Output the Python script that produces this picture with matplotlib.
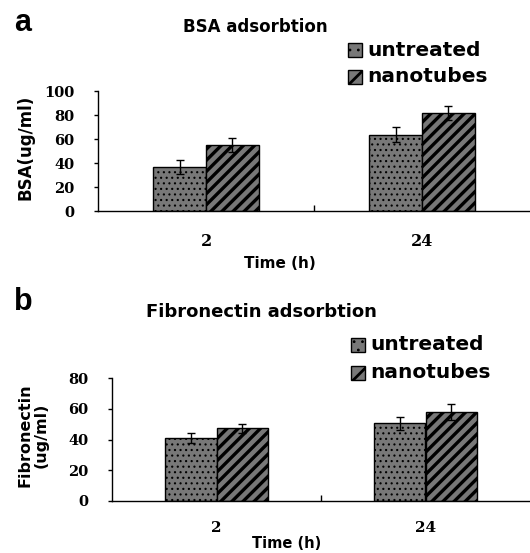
import matplotlib
matplotlib.use("Agg")
import matplotlib.pyplot as plt
from matplotlib.patches import Rectangle
import numpy as np

categories = ["2", "24"]
series = ["untreated", "nanotubes"]
bsa_untreated = [36.7, 63.6]
bsa_nanotubes = [55.0, 81.7]
bsa_untreated_err = [5.7, 6.5]
bsa_nanotubes_err = [5.5, 6.0]
fn_untreated = [40.9, 50.5]
fn_nanotubes = [47.4, 57.9]
fn_untreated_err = [3.5, 4.0]
fn_nanotubes_err = [3.0, 5.0]
bsa_yticks = [0, 20, 40, 60, 80, 100]
fn_yticks = [0, 20, 40, 60, 80]

plt.rcParams['hatch.color'] = 'black'

W, H = 530, 553
fig = plt.figure(figsize=(W / 100, H / 100), dpi=100)

sans = 'DejaVu Sans'
serif = 'DejaVu Serif'
fill = '#787878'
DOT = '...'
STRIPE = '///'


def set_hlw(artists, lw):
    for a in artists:
        if hasattr(a, 'set_hatch_linewidth'):
            a.set_hatch_linewidth(lw)


def make_panel(rect, unt, nano, unt_err, nano_err, yticks, ymax, title, ylabel,
               title_x, title_y, title_fs, leg_y1, leg_y2, leg_x, letter, letter_y,
               ylabel_x, ylabel_fs, ticklab_y, xlabel_y, xlabel_fs, ytick_fs,
               xtick_fs):
    l, b, w, h = rect
    ax = fig.add_axes([l / W, 1 - (b + h) / H, w / W, h / H])
    x = np.arange(len(categories))
    bw = 0.245
    with plt.rc_context({'hatch.linewidth': 0.8}):
        b1 = ax.bar(x - bw / 2, unt, bw, color=fill, edgecolor='black',
                    hatch=DOT, linewidth=1.0, zorder=2)
    set_hlw(b1, 0.8)
    with plt.rc_context({'hatch.linewidth': 2.4}):
        b2 = ax.bar(x + bw / 2, nano, bw, color=fill, edgecolor='black',
                    hatch=STRIPE, linewidth=1.0, zorder=2)
    set_hlw(b2, 2.4)
    ax.errorbar(x - bw / 2, unt, yerr=unt_err, fmt='none', ecolor='black',
                elinewidth=1.0, capsize=3, capthick=1.0, zorder=3)
    ax.errorbar(x + bw / 2, nano, yerr=nano_err, fmt='none', ecolor='black',
                elinewidth=1.0, capsize=3, capthick=1.0, zorder=3)
    ax.set_xlim(-0.5, 1.5)
    ax.set_ylim(0, ymax)
    ax.spines['top'].set_visible(False)
    ax.spines['right'].set_visible(False)
    ax.spines['left'].set_linewidth(1.0)
    ax.spines['bottom'].set_linewidth(1.0)
    ax.set_yticks(yticks)
    ax.set_yticklabels([str(t) for t in yticks], fontfamily=serif,
                       fontweight='bold', fontsize=ytick_fs)
    ax.tick_params(axis='y', length=3, width=1, pad=14, direction='out')
    ax.set_xticks(x)
    ax.set_xticklabels([])
    ax.tick_params(axis='x', length=0)
    ax.set_xticks([0.5], minor=True)
    ax.tick_params(axis='x', which='minor', length=4, width=1, direction='in')
    for xi, c in zip(x, categories):
        disp = ax.transData.transform((xi, 0))
        fx = fig.transFigure.inverted().transform(disp)[0]
        fig.text(fx, 1 - ticklab_y / H, c, ha='center', va='center',
                 fontfamily=serif, fontweight='bold', fontsize=xtick_fs)
    fig.text(280 / W if letter == 'a' else 287 / W, 1 - xlabel_y / H,
             'Time (h)', ha='center', va='center', fontfamily=sans,
             fontweight='bold', fontsize=xlabel_fs)
    fig.text(title_x / W, 1 - title_y / H, title, ha='center', va='center',
             fontfamily=sans, fontweight='bold', fontsize=title_fs)
    fig.text(ylabel_x / W, 1 - (b + h / 2 - 4) / H, ylabel, ha='center',
             va='center', rotation=90, fontfamily=sans, fontweight='bold',
             fontsize=ylabel_fs, linespacing=1.15)
    fig.text(14 / W, 1 - letter_y / H, letter, ha='left', va='center',
             fontfamily='Liberation Sans', fontweight='bold', fontsize=22)
    for yy, name, hatch, hl in [(leg_y1, series[0], '..', 0.8),
                                (leg_y2, series[1], '//', 2.0)]:
        with plt.rc_context({'hatch.linewidth': hl}):
            r = Rectangle(((leg_x) / W, 1 - (yy + 7) / H), 14 / W, 14 / H,
                          transform=fig.transFigure, facecolor=fill,
                          edgecolor='black', hatch=hatch, linewidth=1.0)
        set_hlw([r], hl)
        fig.add_artist(r)
        fig.text((leg_x + 19) / W, 1 - yy / H, name, ha='left', va='center',
                 fontfamily=sans, fontweight='bold', fontsize=14.5)
    return ax


make_panel((98, 91, 432, 120), bsa_untreated, bsa_nanotubes, bsa_untreated_err,
           bsa_nanotubes_err, bsa_yticks, 100, 'BSA adsorbtion', 'BSA(ug/ml)',
           title_x=255, title_y=27, title_fs=12, leg_y1=50, leg_y2=77, leg_x=348,
           letter='a', letter_y=23, ylabel_x=26, ylabel_fs=12, ticklab_y=242,
           xlabel_y=263, xlabel_fs=11, ytick_fs=10.5, xtick_fs=11.5)

make_panel((112, 378, 418, 123), fn_untreated, fn_nanotubes, fn_untreated_err,
           fn_nanotubes_err, fn_yticks, 80, 'Fibronectin adsorbtion',
           'Fibronectin\n(ug/ml)',
           title_x=261, title_y=312, title_fs=13, leg_y1=345, leg_y2=373,
           leg_x=351, letter='b', letter_y=302, ylabel_x=33, ylabel_fs=11.5,
           ticklab_y=528, xlabel_y=543, xlabel_fs=10.5, ytick_fs=10.5,
           xtick_fs=11)

fig.savefig('out.png', dpi=100)
